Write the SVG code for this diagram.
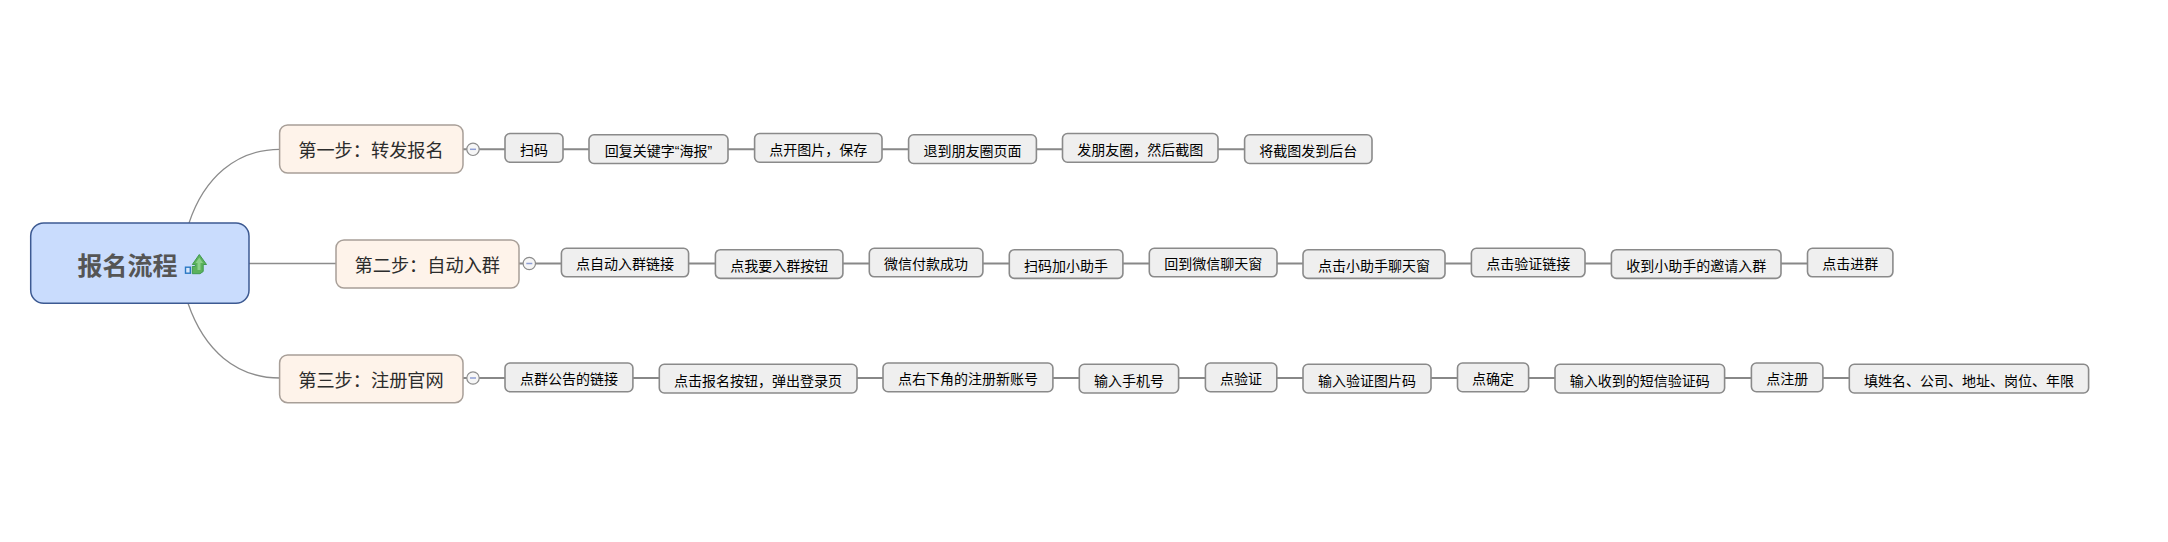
<svg xmlns="http://www.w3.org/2000/svg" width="2168" height="542" viewBox="0 0 2168 542">
<style>
text{font-family:"Noto Sans CJK SC","Liberation Sans",sans-serif;text-anchor:middle}
.q{font-family:"Liberation Sans",sans-serif}
.root{fill:#c9dcfd;stroke:#3d5a92;stroke-width:1.5}
.roott{font-size:25px;font-weight:700;fill:#555}
.st{fill:#fef3ea;stroke:#a89f98;stroke-width:1.5}
.stt{font-size:18.200px;fill:#2c2c2c}
.b{fill:#efefef;stroke:#8a8a8a;stroke-width:1.6}
.bt{font-size:14px;fill:#000}
.c{fill:none;stroke:#8c8c8c;stroke-width:1.3}
.l{fill:none;stroke:#888;stroke-width:2}
.tog{fill:#f6f6f6;stroke:#8c8c8c;stroke-width:1.2}
.min{stroke:#8f9fd4;stroke-width:1.5}
</style>
<g id="connectors">
<path class="c" d="M189 223C204 178 236 149.300 280 149.300"/>
<path class="c" d="M188 303.300C204 350 236 378 280 378"/>
<path class="c" d="M249 263.500H336"/>
<path class="l" d="M463 149.300H505M563 149.300H589M728 149.300H754.600M882 149.300H908.600M1036.400 149.300H1062.500M1218 149.300H1244.600"/>
<path class="l" d="M519 263.500H561.400M688.600 263.500H715.400M842.900 263.500H869.300M982.900 263.500H1009.300M1122.900 263.500H1149.300M1277 263.500H1303M1445 263.500H1471.400M1585 263.500H1611.400M1781 263.500H1807.500"/>
<path class="l" d="M463 378H505M632.900 378H659.300M857 378H883M1052.900 378H1079.300M1178.600 378H1205.400M1276.800 378H1303M1431 378H1457.500M1528.600 378H1555M1724.600 378H1751.400M1822.900 378H1849.300"/>
</g>
<g id="root"><rect class="root" x="30.700" y="223" width="218.300" height="80.300" rx="13"/><text class="roott" x="127.500" y="274.500">报名流程</text>
<rect x="185.500" y="267.200" width="4.800" height="6" fill="#d8e6fb" stroke="#2a78c4" stroke-width="1.4"/>
<path d="M199.300 254.500L206.500 264.500H203.200V271.500L200 273.700H192.300V266.500H195.300V264.500H192.300Z" fill="#5cb25c" stroke="#3f9a4f" stroke-width="1"/>
<path d="M199.300 257.500L203 263H200.500V270H197.500V263H195.500Z" fill="#8ad08a"/></g>
<g id="step1"><rect class="st" x="279.600" y="125" width="183.400" height="48" rx="8"/><text class="stt" x="371" y="156.800">第一步：转发报名</text><circle class="tog" cx="473" cy="149.300" r="6.200"/><path class="min" d="M470 149.300H476"/></g>
<g id="step2"><rect class="st" x="336" y="240" width="183" height="48" rx="8"/><text class="stt" x="427.300" y="271.800">第二步：自动入群</text><circle class="tog" cx="529.300" cy="263.500" r="6.200"/><path class="min" d="M526.300 263.500H532.300"/></g>
<g id="step3"><rect class="st" x="279.600" y="355" width="183.400" height="47.700" rx="8"/><text class="stt" x="371" y="386.800">第三步：注册官网</text><circle class="tog" cx="473" cy="378" r="6.200"/><path class="min" d="M470 378H476"/></g>
<g id="n1-1"><rect class="b" x="505" y="133.500" width="58" height="28.700" rx="5"/><text class="bt" x="534" y="154.500">扫码</text></g>
<g id="n1-2"><rect class="b" x="589" y="134.800" width="139" height="28.700" rx="5"/><text class="bt" x="658.500" y="155.900">回复关键字<tspan class="q">“</tspan>海报<tspan class="q">”</tspan></text></g>
<g id="n1-3"><rect class="b" x="754.600" y="133.500" width="127.400" height="28.700" rx="5"/><text class="bt" x="818.300" y="154.500">点开图片，保存</text></g>
<g id="n1-4"><rect class="b" x="908.600" y="134.800" width="127.800" height="28.700" rx="5"/><text class="bt" x="972.500" y="155.900">退到朋友圈页面</text></g>
<g id="n1-5"><rect class="b" x="1062.500" y="133.500" width="155.500" height="28.700" rx="5"/><text class="bt" x="1140.300" y="154.500">发朋友圈，然后截图</text></g>
<g id="n1-6"><rect class="b" x="1244.600" y="134.800" width="127.400" height="28.700" rx="5"/><text class="bt" x="1308.300" y="155.900">将截图发到后台</text></g>
<g id="n2-1"><rect class="b" x="561.400" y="248.300" width="127.200" height="28.500" rx="5"/><text class="bt" x="625" y="269">点自动入群链接</text></g>
<g id="n2-2"><rect class="b" x="715.400" y="249.700" width="127.500" height="28.700" rx="5"/><text class="bt" x="779.200" y="270.700">点我要入群按钮</text></g>
<g id="n2-3"><rect class="b" x="869.300" y="248.300" width="113.600" height="28.500" rx="5"/><text class="bt" x="926.100" y="269">微信付款成功</text></g>
<g id="n2-4"><rect class="b" x="1009.300" y="249.700" width="113.600" height="28.700" rx="5"/><text class="bt" x="1066.100" y="270.700">扫码加小助手</text></g>
<g id="n2-5"><rect class="b" x="1149.300" y="248.300" width="127.700" height="28.500" rx="5"/><text class="bt" x="1213.200" y="269">回到微信聊天窗</text></g>
<g id="n2-6"><rect class="b" x="1303" y="249.700" width="142" height="28.700" rx="5"/><text class="bt" x="1374" y="270.700">点击小助手聊天窗</text></g>
<g id="n2-7"><rect class="b" x="1471.400" y="248.300" width="113.600" height="28.500" rx="5"/><text class="bt" x="1528.200" y="269">点击验证链接</text></g>
<g id="n2-8"><rect class="b" x="1611.400" y="249.700" width="169.600" height="28.700" rx="5"/><text class="bt" x="1696.200" y="270.700">收到小助手的邀请入群</text></g>
<g id="n2-9"><rect class="b" x="1807.500" y="248.300" width="85.400" height="28.500" rx="5"/><text class="bt" x="1850.200" y="269">点击进群</text></g>
<g id="n3-1"><rect class="b" x="505" y="363" width="127.900" height="28.700" rx="5"/><text class="bt" x="569" y="384">点群公告的链接</text></g>
<g id="n3-2"><rect class="b" x="659.300" y="364.300" width="197.700" height="28.700" rx="5"/><text class="bt" x="758.100" y="385.500">点击报名按钮，弹出登录页</text></g>
<g id="n3-3"><rect class="b" x="883" y="363" width="169.900" height="28.700" rx="5"/><text class="bt" x="968" y="384">点右下角的注册新账号</text></g>
<g id="n3-4"><rect class="b" x="1079.300" y="364.300" width="99.300" height="28.700" rx="5"/><text class="bt" x="1129" y="385.500">输入手机号</text></g>
<g id="n3-5"><rect class="b" x="1205.400" y="363" width="71.400" height="28.700" rx="5"/><text class="bt" x="1241.100" y="384">点验证</text></g>
<g id="n3-6"><rect class="b" x="1303" y="364.300" width="128" height="28.700" rx="5"/><text class="bt" x="1367" y="385.500">输入验证图片码</text></g>
<g id="n3-7"><rect class="b" x="1457.500" y="363" width="71.100" height="28.700" rx="5"/><text class="bt" x="1493" y="384">点确定</text></g>
<g id="n3-8"><rect class="b" x="1555" y="364.300" width="169.600" height="28.700" rx="5"/><text class="bt" x="1639.800" y="385.500">输入收到的短信验证码</text></g>
<g id="n3-9"><rect class="b" x="1751.400" y="363" width="71.500" height="28.700" rx="5"/><text class="bt" x="1787.200" y="384">点注册</text></g>
<g id="n3-10"><rect class="b" x="1849.300" y="364.300" width="239.300" height="28.700" rx="5"/><text class="bt" x="1969" y="385.500">填姓名、公司、地址、岗位、年限</text></g>
</svg>
